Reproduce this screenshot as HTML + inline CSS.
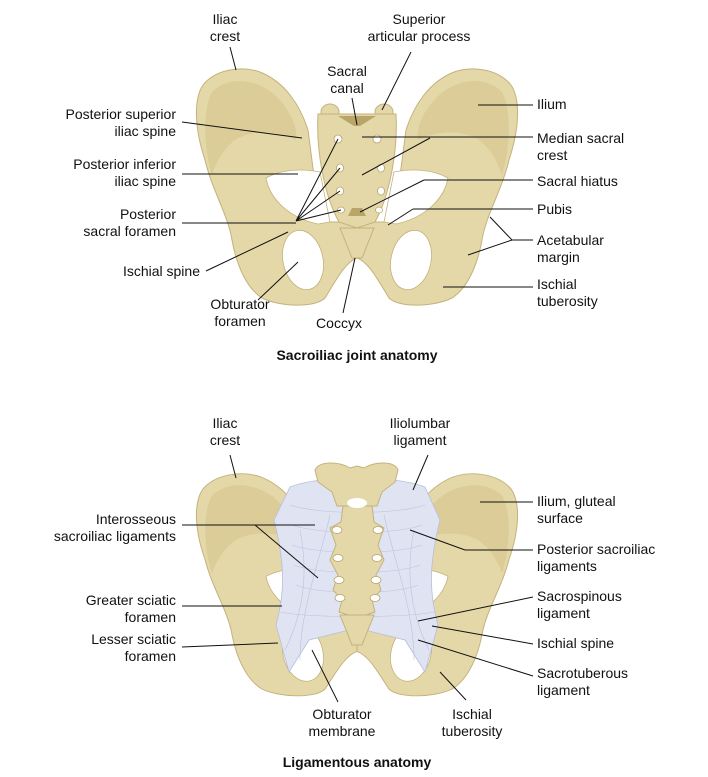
<!DOCTYPE html>
<html><head><meta charset="utf-8"><style>
html,body{margin:0;padding:0;background:#fff;}
#c{position:relative;width:708px;height:777px;overflow:hidden;font-family:"Liberation Sans",Arial,sans-serif;font-size:14px;color:#111;line-height:17px;}
.t{position:absolute;white-space:nowrap;}
.r{text-align:right;}
.m{text-align:center;transform:translateX(-50%);}
.b{font-weight:bold;}
svg{position:absolute;left:0;top:0;}
</style></head><body><div id="c">
<svg width="708" height="777" viewBox="0 0 708 777">
<defs>
<g id="half">
<path d="M357,222 L357,258 C345,262 335,282 325,298 C315,308 280,307 262,298 C245,287 236,262 232,240 C228,215 212,190 205,160 C195,130 193,100 203,85 C215,70 240,65 260,72 C285,82 300,105 308,130 L320,222 Z" fill="#e4d8a8" stroke="#c4b27c" stroke-width="1"/>
<path d="M212,92 C228,76 255,78 275,95 C292,112 298,128 296,140 C280,132 255,128 235,140 C222,150 215,165 212,175 C204,150 202,110 212,92 Z" fill="#d9ca94" opacity="0.8"/>
<path d="M266,178 C270,200 290,218 318,224 L330,222 L320,172 C300,168 280,170 266,178 Z" fill="#fff" stroke="#c4b27c" stroke-width="0.8"/>
<ellipse cx="303" cy="260" rx="20" ry="30" transform="rotate(-12 303 260)" fill="#fff" stroke="#c4b27c" stroke-width="0.8"/>
</g>
<g id="pelvis">
<use href="#half"/>
<use href="#half" transform="translate(714,0) scale(-1,1)"/>
</g>
</defs>
<!-- top -->
<use href="#pelvis"/>
<ellipse cx="330" cy="112" rx="9" ry="8" fill="#e4d8a8" stroke="#c4b27c"/>
<ellipse cx="384" cy="112" rx="9" ry="8" fill="#e4d8a8" stroke="#c4b27c"/>
<path d="M318,114 L396,114 C398,150 390,195 375,222 L357,228 L339,222 C324,195 316,150 318,114 Z" fill="#e4d8a8" stroke="#c4b27c"/>
<path d="M338,116 L376,116 L360,126 L354,126 Z" fill="#b9a46a"/>
<path d="M340,228 L374,228 L362,258 L352,258 Z" fill="#e4d8a8" stroke="#c4b27c"/>
<g fill="#fff" stroke="#b9a46a" stroke-width="0.8">
<ellipse cx="338" cy="139" rx="4" ry="4"/><ellipse cx="377" cy="139" rx="4" ry="4"/>
<ellipse cx="340" cy="168" rx="3.5" ry="4"/><ellipse cx="381" cy="168" rx="3.5" ry="4"/>
<ellipse cx="340" cy="191" rx="3.5" ry="4"/><ellipse cx="381" cy="191" rx="3.5" ry="4"/>
<ellipse cx="341" cy="210" rx="3.5" ry="3"/><ellipse cx="379" cy="210" rx="3.5" ry="3"/>
</g>
<path d="M352,208 L362,208 L366,216 L348,216 Z" fill="#b9a46a"/>
<!-- bottom -->
<g transform="translate(0,409) scale(1,0.94)"><use href="#pelvis"/></g>
<path d="M290,487 C320,475 395,475 425,487 L440,520 C430,560 428,590 438,625 L425,672 L405,640 L357,628 L309,640 L289,672 L276,625 C286,590 284,560 274,520 Z" fill="#dfe3f2" stroke="#b7bedb" stroke-width="0.8"/>
<g stroke="#bcc3de" stroke-width="0.6" fill="none">
<path d="M290,505 C320,515 395,515 425,505"/><path d="M292,525 C320,535 395,535 422,525"/><path d="M292,545 C320,555 395,555 422,545"/><path d="M294,565 C320,575 395,575 420,565"/><path d="M296,585 C320,595 395,595 418,585"/><path d="M280,612 C310,618 404,618 434,612"/><path d="M300,660 C300,610 320,560 330,515"/><path d="M414,660 C414,610 394,560 384,515"/><path d="M285,650 C300,620 310,580 300,530"/><path d="M429,650 C414,620 404,580 414,530"/>
</g>
<path d="M343,505 L372,505 L374,522 L384,528 L378,545 L384,560 L376,575 L381,590 L372,600 L375,612 L357,618 L339,612 L342,600 L333,590 L338,575 L330,560 L336,545 L330,528 L341,522 Z" fill="#e4d8a8" stroke="#c4b27c"/>
<path d="M315,470 C320,460 340,462 350,468 L357,466 L364,468 C374,462 394,460 398,470 L395,482 L382,492 L377,506 L337,506 L332,492 L318,482 Z" fill="#e4d8a8" stroke="#c4b27c"/>
<ellipse cx="357" cy="503" rx="10" ry="5" fill="#fff"/>
<path d="M340,615 L374,615 L362,645 L352,645 Z" fill="#e4d8a8" stroke="#c4b27c"/>
<g fill="#fff" stroke="#b9a46a" stroke-width="0.8">
<ellipse cx="337" cy="530" rx="5" ry="3.5"/><ellipse cx="378" cy="530" rx="5" ry="3.5"/>
<ellipse cx="338" cy="558" rx="5" ry="3.5"/><ellipse cx="377" cy="558" rx="5" ry="3.5"/>
<ellipse cx="339" cy="580" rx="5" ry="3.5"/><ellipse cx="376" cy="580" rx="5" ry="3.5"/>
<ellipse cx="340" cy="598" rx="5" ry="3.5"/><ellipse cx="375" cy="598" rx="5" ry="3.5"/>
</g>
<!-- leader lines -->
<g stroke="#111" stroke-width="1" fill="none">
<path d="M230,47 L236,70"/><path d="M411,52 L382,110"/><path d="M352,98 L357,125"/>
<path d="M182,122 L302,138"/><path d="M182,174 L298,174"/>
<path d="M182,223 L296,223"/>
<path d="M296,221 L338,139 M296,221 L340,168 M296,221 L340,191 M296,221 L341,210"/>
<path d="M206,271 L288,232"/><path d="M258,300 L298,262"/><path d="M343,313 L355,258"/>
<path d="M478,105 L533,105"/><path d="M362,137 L533,137 M430,138 L362,175"/>
<path d="M424,180 L533,180 M424,180 L360,212"/>
<path d="M413,209 L533,209 M413,209 L388,225"/>
<path d="M533,240 L512,240 L490,217 M512,240 L468,255"/>
<path d="M443,287 L533,287"/>
<path d="M230,455 L236,478"/><path d="M428,455 L413,490"/>
<path d="M182,525 L315,525 M255,525 L318,578"/>
<path d="M182,606 L282,606"/><path d="M182,647 L278,643"/>
<path d="M338,702 L312,650"/><path d="M466,700 L440,672"/>
<path d="M480,502 L533,502"/><path d="M465,550 L533,550 M465,550 L410,530"/>
<path d="M418,621 L533,597"/><path d="M432,626 L533,644"/><path d="M418,640 L533,676"/>
</g>
</svg>
<div class="t m" style="left:225px;top:11px">Iliac<br>crest</div>
<div class="t m" style="left:419px;top:11px">Superior<br>articular process</div>
<div class="t m" style="left:347px;top:63px">Sacral<br>canal</div>
<div class="t r" style="right:532px;top:106px">Posterior superior<br>iliac spine</div>
<div class="t r" style="right:532px;top:156px">Posterior inferior<br>iliac spine</div>
<div class="t r" style="right:532px;top:206px">Posterior<br>sacral foramen</div>
<div class="t r" style="right:508px;top:263px">Ischial spine</div>
<div class="t m" style="left:240px;top:296px">Obturator<br>foramen</div>
<div class="t m" style="left:339px;top:315px">Coccyx</div>
<div class="t" style="left:537px;top:96px">Ilium</div>
<div class="t" style="left:537px;top:130px">Median sacral<br>crest</div>
<div class="t" style="left:537px;top:173px">Sacral hiatus</div>
<div class="t" style="left:537px;top:201px">Pubis</div>
<div class="t" style="left:537px;top:232px">Acetabular<br>margin</div>
<div class="t" style="left:537px;top:276px">Ischial<br>tuberosity</div>
<div class="t m b" style="left:357px;top:347px">Sacroiliac joint anatomy</div>
<div class="t m" style="left:225px;top:415px">Iliac<br>crest</div>
<div class="t m" style="left:420px;top:415px">Iliolumbar<br>ligament</div>
<div class="t r" style="right:532px;top:511px">Interosseous<br>sacroiliac ligaments</div>
<div class="t r" style="right:532px;top:592px">Greater sciatic<br>foramen</div>
<div class="t r" style="right:532px;top:631px">Lesser sciatic<br>foramen</div>
<div class="t m" style="left:342px;top:706px">Obturator<br>membrane</div>
<div class="t m" style="left:472px;top:706px">Ischial<br>tuberosity</div>
<div class="t" style="left:537px;top:493px">Ilium, gluteal<br>surface</div>
<div class="t" style="left:537px;top:541px">Posterior sacroiliac<br>ligaments</div>
<div class="t" style="left:537px;top:588px">Sacrospinous<br>ligament</div>
<div class="t" style="left:537px;top:635px">Ischial spine</div>
<div class="t" style="left:537px;top:665px">Sacrotuberous<br>ligament</div>
<div class="t m b" style="left:357px;top:754px">Ligamentous anatomy</div>
</div></body></html>
